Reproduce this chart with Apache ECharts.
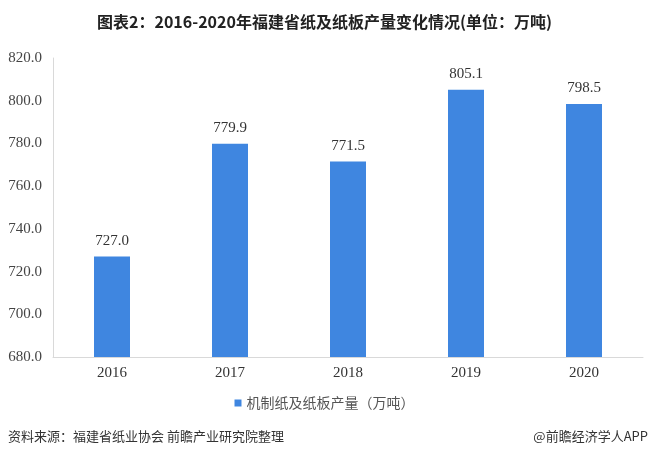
<!DOCTYPE html>
<html><head><meta charset="utf-8">
<script src="https://cdn.jsdelivr.net/npm/echarts@6/dist/echarts.min.js"></script>
<style>html,body{margin:0;padding:0;background:#fff}#c{width:649px;height:457px}</style>
</head><body><div id="c"></div>
<script>
const categories = ['2016','2017','2018','2019','2020'];
const values = [727.0, 779.9, 771.5, 805.1, 798.5];
const seriesName = '机制纸及纸板产量（万吨）';
const titleText = '图表2：2016-2020年福建省纸及纸板产量变化情况(单位：万吨)';
const sourceText = '资料来源：福建省纸业协会 前瞻产业研究院整理';
const brandText = '@前瞻经济学人APP';

const chart = echarts.init(document.getElementById('c'), null, {renderer:'canvas'});
chart.setOption({
  animation:false,
  backgroundColor:'#fff',
  title:{text:titleText, left:'center', top:9,
    textStyle:{fontFamily:'Noto Sans CJK SC', fontSize:16, fontWeight:'bold', color:'#222'}},
  grid:{left:53, right:6, top:58, bottom:100},
  xAxis:{type:'category', data:categories,
    axisLine:{lineStyle:{color:'#d9d9d9'}}, axisTick:{show:false},
    axisLabel:{fontFamily:'Liberation Serif', fontSize:15, color:'#333', margin:9}},
  yAxis:{type:'value', min:680, max:820, interval:20,
    axisLine:{show:true, lineStyle:{color:'#d9d9d9'}}, axisTick:{show:false},
    splitLine:{show:false},
    axisLabel:{fontFamily:'Liberation Serif', fontSize:15, color:'#444', margin:11,
      formatter:v=>v.toFixed(1)}},
  legend:{data:[seriesName], bottom:42, left:'center', itemWidth:7, itemHeight:7, itemGap:4,
    icon:'rect',
    textStyle:{fontFamily:'Noto Sans CJK SC', fontSize:14, color:'#555'}},
  series:[{name:seriesName, type:'bar', data:values, barWidth:36,
    itemStyle:{color:'#3f86e0'},
    label:{show:true, position:'top', distance:8, fontFamily:'Liberation Serif', fontSize:15, color:'#333',
      formatter:p=>p.value.toFixed(1)}}],
  graphic:[
    {type:'text', left:8, top:430, style:{text:sourceText, font:'13px "Noto Sans CJK SC"', fill:'#333'}},
    {type:'text', right:1, top:430, style:{text:brandText, font:'13px "Noto Sans CJK SC"', fill:'#333'}}
  ]
});
</script></body></html>
